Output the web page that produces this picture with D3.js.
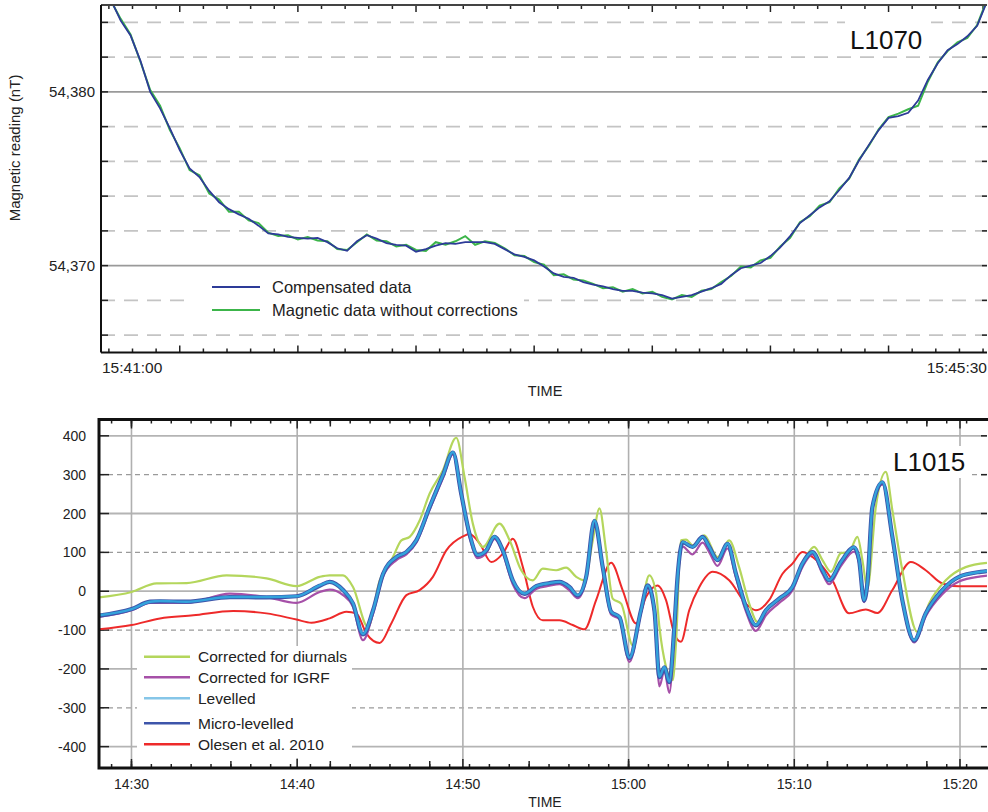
<!DOCTYPE html>
<html>
<head>
<meta charset="utf-8">
<script src="https://cdn.jsdelivr.net/npm/d3@7"></script>
<style>
  body { margin: 0; background: #fff; }
  svg { display: block; font-family: "Liberation Sans", Arial, sans-serif; }
</style>
</head>
<body>
<svg id="chart" width="988" height="812"></svg>
<script>
// ---- top panel (L1070): seconds after 15:41:00, readings in nT
let topTimes = [3, 6, 9, 12, 15, 18, 21, 24, 27, 30, 33, 36, 39, 42, 45, 48, 51, 54, 57, 60,
  63, 66, 69, 72, 75, 78, 81, 84, 87, 90, 93, 96, 99, 102, 105, 108, 111, 114, 117, 120,
  123, 126, 129, 132, 135, 138, 141, 144, 147, 150, 153, 156, 159, 162, 165, 168, 171, 174, 177, 180,
  183, 186, 189, 192, 195, 198, 201, 204, 207, 210, 213, 216, 219, 222, 225, 228, 231, 234, 237, 240,
  243, 246, 249, 252, 255, 258, 261, 264, 267, 270];
let compensated = [54385.3, 54384.1, 54383.25, 54381.8, 54380.0, 54379.05, 54377.9, 54376.65, 54375.6, 54375.1,
  54374.3, 54373.65, 54373.25, 54372.95, 54372.7, 54372.3, 54371.85, 54371.8, 54371.65, 54371.6,
  54371.55, 54371.6, 54371.35, 54371.0, 54370.85, 54371.4, 54371.75, 54371.55, 54371.3, 54371.2,
  54371.15, 54370.8, 54370.95, 54371.15, 54371.3, 54371.25, 54371.35, 54371.35, 54371.35, 54371.25,
  54370.95, 54370.65, 54370.5, 54370.3, 54369.95, 54369.55, 54369.35, 54369.3, 54369.05, 54368.9,
  54368.8, 54368.65, 54368.55, 54368.55, 54368.45, 54368.4, 54368.3, 54368.1, 54368.2, 54368.3,
  54368.5, 54368.7, 54368.95, 54369.45, 54369.85, 54370.0, 54370.15, 54370.55, 54371.05, 54371.7,
  54372.45, 54372.9, 54373.35, 54373.7, 54374.35, 54375.05, 54376.05, 54376.95, 54377.8, 54378.5,
  54378.6, 54378.8, 54379.5, 54380.7, 54381.65, 54382.4, 54382.75, 54383.2, 54383.8, 54385.2];
let uncorrected = [54385.25, 54384.2, 54383.3, 54381.75, 54380.1, 54379.2, 54377.8, 54376.75, 54375.5, 54375.2,
  54374.15, 54373.8, 54373.1, 54373.1, 54372.6, 54372.45, 54371.9, 54371.7, 54371.75, 54371.5,
  54371.65, 54371.45, 54371.4, 54370.95, 54370.9, 54371.35, 54371.8, 54371.45, 54371.4, 54371.1,
  54371.2, 54370.9, 54370.85, 54371.35, 54371.2, 54371.4, 54371.7, 54371.2, 54371.4, 54371.3,
  54371.0, 54370.6, 54370.55, 54370.2, 54370.05, 54369.45, 54369.5, 54369.2, 54369.15, 54368.95,
  54368.7, 54368.75, 54368.5, 54368.65, 54368.4, 54368.5, 54368.2, 54368.05, 54368.3, 54368.2,
  54368.55, 54368.65, 54369.05, 54369.4, 54369.95, 54369.9, 54370.3, 54370.45, 54371.1, 54371.6,
  54372.5, 54372.85, 54373.45, 54373.65, 54374.45, 54375.0, 54376.1, 54376.9, 54377.85, 54378.55,
  54378.75, 54379.0, 54379.2, 54380.6, 54381.7, 54382.35, 54382.85, 54383.1, 54383.85, 54385.3];
let topGridValues = [54366, 54368, 54370, 54372, 54374, 54376, 54378, 54380, 54382, 54384];
let topLabelValues = [54370, 54380];

// ---- bottom panel (L1015): minutes after 14:00, anomaly in nT
let levTimes = [28.04, 30.01, 31.12, 31.72, 33.33, 35.94, 38.15, 39.96, 41.36, 41.96,
  42.77, 43.37, 43.97, 44.58, 45.18, 45.99, 46.59, 47.19, 47.99, 48.79,
  49.40, 49.90, 50.40, 50.90, 51.41, 51.91, 52.41, 53.01, 53.72, 54.42,
  55.23, 55.83, 56.43, 56.93, 57.44, 57.94, 58.44, 58.95, 59.45, 60.05,
  60.75, 61.15, 61.56, 61.86, 62.16, 62.46, 62.76, 62.96, 63.26, 63.86,
  64.47, 64.87, 65.37, 65.97, 66.48, 67.08, 67.68, 68.29, 69.09, 69.89,
  70.49, 71.10, 71.70, 72.10, 72.81, 73.61, 73.91, 74.21, 74.41, 74.71,
  75.32, 75.92, 76.52, 77.23, 77.93, 78.93, 79.94, 81.25, 81.63];
let levelled = [-62, -46, -27, -25, -27, -15, -15, -13, 15, 24,
  3, -31, -110, -49, 45, 88, 101, 131, 217, 298,
  358, 251, 148, 93, 105, 141, 105, 28, -6, 13,
  21, 24, 11, -10, 37, 182, 62, -53, -66, -171,
  -49, 15, -49, -220, -195, -233, -92, 40, 127, 114,
  140, 114, 80, 123, 45, -40, -87, -49, -19, 11,
  71, 101, 54, 28, 75, 114, 80, -23, 20, 217,
  281, 140, -23, -126, -57, 3, 37, 50, 52];
let microLevelled = [-63, -46, -27, -26, -27, -15, -16, -13, 14, 24,
  3, -32, -111, -49, 44, 88, 101, 131, 216, 298,
  357, 251, 147, 93, 105, 140, 105, 28, -7, 13,
  21, 24, 11, -11, 37, 181, 62, -53, -67, -172,
  -49, 15, -50, -221, -196, -234, -92, 40, 126, 114,
  140, 114, 80, 122, 45, -40, -88, -49, -19, 11,
  71, 101, 54, 28, 75, 113, 80, -24, 20, 216,
  280, 140, -23, -127, -57, 3, 37, 50, 52];
let igrf = [-66, -49, -30, -30, -30, -6, -15, -30, -2, 4,
  -10, -40, -126, -58, 38, 80, 95, 125, 210, 290,
  352, 245, 140, 85, 98, 135, 98, 18, -18, 6,
  14, 18, 2, -18, 30, 178, 55, -60, -72, -182,
  -55, 10, -58, -245, -205, -262, -100, 30, 115, 95,
  125, 100, 65, 110, 35, -52, -102, -62, -30, 2,
  62, 95, 45, 18, 65, 102, 72, -28, 15, 210,
  275, 135, -28, -132, -65, -8, 25, 38, 40];
let diurnalTimes = [28.04, 30.01, 31.52, 33.33, 35.74, 38.15, 39.96, 41.36, 41.96, 42.77,
  43.37, 44.27, 44.98, 45.78, 46.29, 46.79, 47.39, 47.99, 48.79, 49.60,
  50.10, 50.60, 51.21, 52.21, 52.82, 53.52, 54.22, 54.82, 55.63, 56.23,
  56.84, 57.34, 57.84, 58.24, 58.64, 59.04, 59.55, 60.25, 60.75, 61.25,
  61.66, 61.86, 62.26, 62.66, 62.86, 63.16, 63.47, 63.86, 64.57, 65.37,
  66.07, 66.67, 67.28, 67.78, 68.48, 69.09, 69.89, 70.70, 71.20, 71.70,
  72.21, 72.81, 73.31, 73.81, 74.11, 74.41, 74.92, 75.52, 75.92, 76.52,
  77.43, 78.13, 79.14, 80.34, 81.63];
let diurnal = [-16, -2, 20, 21, 41, 33, 13, 37, 41, 41,
  11, -92, 28, 88, 131, 140, 182, 251, 311, 395,
  294, 174, 114, 174, 131, 54, 28, 58, 54, 61,
  37, 28, 131, 213, 105, -19, -32, -139, -49, 41,
  -5, -92, -195, -229, -134, 131, 133, 118, 144, 88,
  131, 62, -32, -79, -36, -23, 11, 88, 114, 80,
  50, 98, 101, 140, 80, 7, 217, 307, 208, 54,
  -105, -32, 28, 62, 73];
let olesenTimes = [28.04, 30.01, 31.72, 33.73, 36.14, 38.15, 39.96, 40.86, 41.96, 42.97,
  43.57, 44.18, 44.98, 45.68, 46.59, 47.39, 48.19, 49.00, 50.00, 50.40,
  51.01, 51.71, 52.41, 53.01, 53.62, 54.22, 54.82, 55.83, 56.63, 57.34,
  58.04, 58.95, 59.64, 60.45, 61.05, 61.75, 62.26, 62.76, 63.16, 63.66,
  64.27, 65.07, 66.07, 67.08, 67.68, 68.48, 69.29, 69.89, 70.49, 71.10,
  72.30, 73.31, 74.32, 75.02, 75.92, 77.03, 77.93, 78.93, 79.94, 81.31, 81.63];
let olesen = [-98, -87, -70, -62, -51, -57, -73, -81, -70, -53,
  -57, -109, -133, -83, -10, 3, 37, 105, 141, 147,
  123, 75, 97, 135, 62, -40, -75, -75, -87, -98,
  -23, 73, 3, -83, -15, 15, -23, -109, -130, -49,
  11, 50, 28, -32, -49, -23, 45, 71, 101, 88,
  28, -57, -47, -56, 3, 75, 54, 20, 13, 13, 13];
let botGridValues = [-400, -300, -200, -100, 0, 100, 200, 300, 400];
let botTimeLabels = [30, 40, 50, 60, 70, 80];

let svg = d3.select("#chart");

// ================= TOP PANEL =================
let topBox = { left: 101, right: 987, top: 5, bottom: 352.5 };
let xTop = d3.scaleLinear().domain([0, 270]).range([topBox.left, topBox.right]);
let yTop = d3.scaleLinear().domain([54365, 54385]).range([topBox.bottom, topBox.top]);
let gTop = svg.append("g");

gTop.append("clipPath").attr("id", "clipTop").append("rect")
  .attr("x", topBox.left).attr("y", topBox.top)
  .attr("width", topBox.right - topBox.left).attr("height", topBox.bottom - topBox.top);

// grid
gTop.selectAll(".tgrid").data(topGridValues).enter().append("line")
  .attr("x1", topBox.left).attr("x2", topBox.right)
  .attr("y1", d => yTop(d)).attr("y2", d => yTop(d))
  .attr("stroke", d => d % 10 === 0 ? "#9a9a9a" : "#c4c4c4")
  .attr("stroke-width", 1.6)
  .attr("stroke-dasharray", d => d % 10 === 0 ? null : "14,9");

// ticks
let topMajor = [24, 60, 96, 132, 168, 204, 240];
let topMinor = d3.range(2.4, 270, 7.2).filter(t => !topMajor.some(m => Math.abs(m - t) < 0.1));
[[topMajor, 7], [topMinor, 4]].forEach(([vals, len]) => {
  gTop.selectAll(null).data(vals).enter().append("line")
    .attr("x1", d => xTop(d)).attr("x2", d => xTop(d))
    .attr("y1", topBox.top).attr("y2", topBox.top + len)
    .attr("stroke", "#222").attr("stroke-width", 1.5);
  gTop.selectAll(null).data(vals).enter().append("line")
    .attr("x1", d => xTop(d)).attr("x2", d => xTop(d))
    .attr("y1", topBox.bottom).attr("y2", topBox.bottom - len)
    .attr("stroke", "#222").attr("stroke-width", 1.5);
});
gTop.selectAll(null).data(topGridValues).enter().append("line")
  .attr("x1", topBox.left).attr("x2", topBox.left + 7)
  .attr("y1", d => yTop(d)).attr("y2", d => yTop(d))
  .attr("stroke", "#222").attr("stroke-width", 1.5);
gTop.selectAll(null).data(topGridValues).enter().append("line")
  .attr("x1", topBox.right).attr("x2", topBox.right - 5)
  .attr("y1", d => yTop(d)).attr("y2", d => yTop(d))
  .attr("stroke", "#222").attr("stroke-width", 1.5);

// label boxes (white behind text)
gTop.append("rect").attr("x", 192).attr("y", 276).attr("width", 332).attr("height", 44).attr("fill", "#fff");
gTop.append("rect").attr("x", 845).attr("y", 12).attr("width", 86).attr("height", 30).attr("fill", "#fff");

// lines
let lineTop = d3.line().x((d, i) => xTop(topTimes[i])).y(d => yTop(d));
gTop.append("path").datum(uncorrected).attr("d", lineTop)
  .attr("fill", "none").attr("stroke", "#3cb54a").attr("stroke-width", 2)
  .attr("clip-path", "url(#clipTop)");
gTop.append("path").datum(compensated).attr("d", lineTop)
  .attr("fill", "none").attr("stroke", "#2d3b98").attr("stroke-width", 1.8)
  .attr("clip-path", "url(#clipTop)");

// frame
gTop.append("line").attr("x1", topBox.left).attr("x2", topBox.right).attr("y1", topBox.top).attr("y2", topBox.top)
  .attr("stroke", "#444").attr("stroke-width", 2);
gTop.append("line").attr("x1", topBox.left).attr("x2", topBox.right).attr("y1", topBox.bottom).attr("y2", topBox.bottom)
  .attr("stroke", "#111").attr("stroke-width", 2);
gTop.append("line").attr("x1", topBox.left).attr("x2", topBox.left).attr("y1", topBox.top).attr("y2", topBox.bottom)
  .attr("stroke", "#111").attr("stroke-width", 2);

// y labels
gTop.selectAll(null).data(topLabelValues).enter().append("text")
  .attr("x", 95).attr("y", d => yTop(d) + 5)
  .attr("text-anchor", "end").attr("font-size", 15).attr("fill", "#222")
  .text(d => d3.format(",")(d));
gTop.append("text").attr("transform", "translate(20,148) rotate(-90)")
  .attr("text-anchor", "middle").attr("font-size", 15).attr("fill", "#222")
  .text("Magnetic reading (nT)");

// x labels
gTop.append("text").attr("x", xTop(0) + 1).attr("y", 373).attr("font-size", 15.5).attr("fill", "#222").text("15:41:00");
gTop.append("text").attr("x", xTop(270)).attr("y", 373).attr("text-anchor", "end").attr("font-size", 15.5).attr("fill", "#222").text("15:45:30");
gTop.append("text").attr("x", 545).attr("y", 396).attr("text-anchor", "middle").attr("font-size", 14.5).attr("fill", "#222").text("TIME");

gTop.append("text").attr("x", 850).attr("y", 49).attr("font-size", 26).attr("fill", "#111").text("L1070");

// legend
let topLegend = [["Compensated data", "#2d3b98"], ["Magnetic data without corrections", "#3cb54a"]];
topLegend.forEach(([name, col], i) => {
  let y = 287 + i * 23;
  gTop.append("line").attr("x1", 212).attr("x2", 260).attr("y1", y).attr("y2", y).attr("stroke", col).attr("stroke-width", 2.2);
  gTop.append("text").attr("x", 272).attr("y", y + 5.5).attr("font-size", 16.5).attr("fill", "#222").text(name);
});

// ================= BOTTOM PANEL =================
let botBox = { left: 99, right: 987, top: 419.5, bottom: 768 };
let xBot = d3.scaleLinear().domain([28.04, 81.63]).range([botBox.left, botBox.right]);
let yBot = d3.scaleLinear().domain([-455, 442]).range([botBox.bottom, botBox.top]);
let gBot = svg.append("g");

gBot.append("clipPath").attr("id", "clipBot").append("rect")
  .attr("x", botBox.left).attr("y", botBox.top)
  .attr("width", botBox.right - botBox.left).attr("height", botBox.bottom - botBox.top);

// grid
gBot.selectAll(null).data(botGridValues).enter().append("line")
  .attr("x1", botBox.left).attr("x2", botBox.right)
  .attr("y1", d => yBot(d)).attr("y2", d => yBot(d))
  .attr("stroke", d => d % 200 === 0 ? "#b4b4b4" : "#9a9a9a")
  .attr("stroke-width", d => d % 200 === 0 ? 1.8 : 1.2)
  .attr("stroke-dasharray", d => d % 200 === 0 ? null : "5,4");
gBot.selectAll(null).data(botTimeLabels).enter().append("line")
  .attr("x1", d => xBot(d)).attr("x2", d => xBot(d))
  .attr("y1", botBox.top).attr("y2", botBox.bottom)
  .attr("stroke", "#b0b0b0").attr("stroke-width", 1.6);

// white boxes for legend and label
gBot.append("rect").attr("x", 137).attr("y", 646).attr("width", 215).attr("height", 112).attr("fill", "#fff");
gBot.append("rect").attr("x", 882).attr("y", 446).attr("width", 90).attr("height", 32).attr("fill", "#fff");

// ticks
let botMinor = d3.range(28.8, 81.6, 1.2);
let botMid = d3.range(30, 81.6, 6);
[[botMinor, 4], [botMid, 7], [botTimeLabels, 9]].forEach(([vals, len]) => {
  gBot.selectAll(null).data(vals).enter().append("line")
    .attr("x1", d => xBot(d)).attr("x2", d => xBot(d))
    .attr("y1", botBox.top).attr("y2", botBox.top + len)
    .attr("stroke", "#222").attr("stroke-width", 1.5);
  gBot.selectAll(null).data(vals).enter().append("line")
    .attr("x1", d => xBot(d)).attr("x2", d => xBot(d))
    .attr("y1", botBox.bottom).attr("y2", botBox.bottom - len)
    .attr("stroke", "#222").attr("stroke-width", 1.5);
});
gBot.selectAll(null).data(botGridValues).enter().append("line")
  .attr("x1", botBox.left).attr("x2", botBox.left + 10)
  .attr("y1", d => yBot(d)).attr("y2", d => yBot(d))
  .attr("stroke", "#222").attr("stroke-width", 1.5);
gBot.selectAll(null).data(botGridValues).enter().append("line")
  .attr("x1", botBox.right).attr("x2", botBox.right - 6)
  .attr("y1", d => yBot(d)).attr("y2", d => yBot(d))
  .attr("stroke", "#222").attr("stroke-width", 1.5);

// series
let mkLine = times => d3.line().curve(d3.curveMonotoneX).x((d, i) => xBot(times[i])).y(d => yBot(d));
let botSeries = [
  { name: "Olesen et al. 2010", values: olesen, times: olesenTimes, color: "#ee2a2a", width: 2 },
  { name: "Corrected for diurnals", values: diurnal, times: diurnalTimes, color: "#b4d65c", width: 2.2 },
  { name: "Corrected for IGRF", values: igrf, times: levTimes, color: "#a650a8", width: 2.2 },
  { name: "Micro-levelled", values: microLevelled, times: levTimes, color: "#3d55aa", width: 4.2 },
  { name: "Levelled", values: levelled, times: levTimes, color: "#33a3dc", width: 2.4 }
];
botSeries.forEach(s => {
  gBot.append("path").datum(s.values).attr("d", mkLine(s.times))
    .attr("fill", "none").attr("stroke", s.color).attr("stroke-width", s.width)
    .attr("clip-path", "url(#clipBot)");
});

// frame
gBot.append("rect").attr("x", botBox.left).attr("y", botBox.top)
  .attr("width", botBox.right - botBox.left + 4).attr("height", botBox.bottom - botBox.top)
  .attr("fill", "none").attr("stroke", "#111").attr("stroke-width", 3);

// y labels
gBot.selectAll(null).data(botGridValues).enter().append("text")
  .attr("x", 86).attr("y", d => yBot(d) + 5)
  .attr("text-anchor", "end").attr("font-size", 14).attr("fill", "#222")
  .text(d => d);

// x labels
let fmtTime = m => `${14 + Math.floor(m / 60)}:${d3.format("02")(m % 60)}`;
gBot.selectAll(null).data(botTimeLabels).enter().append("text")
  .attr("x", d => xBot(d)).attr("y", 789)
  .attr("text-anchor", "middle").attr("font-size", 14).attr("fill", "#222")
  .text(fmtTime);
gBot.append("text").attr("x", 545).attr("y", 807).attr("text-anchor", "middle").attr("font-size", 14).attr("fill", "#222").text("TIME");

gBot.append("text").attr("x", 893).attr("y", 471).attr("font-size", 26).attr("fill", "#111").text("L1015");

// legend
let legOrder = [
  ["Corrected for diurnals", "#b4d65c", 656.7],
  ["Corrected for IGRF", "#a650a8", 677.3],
  ["Levelled", "#86c6e8", 698.3],
  ["Micro-levelled", "#3d55aa", 723.3],
  ["Olesen et al. 2010", "#ee2a2a", 744.3]
];
legOrder.forEach(([name, col, y]) => {
  gBot.append("line").attr("x1", 144).attr("x2", 190).attr("y1", y).attr("y2", y).attr("stroke", col).attr("stroke-width", 2.4);
  gBot.append("text").attr("x", 198).attr("y", y + 5.5).attr("font-size", 15.5).attr("fill", "#222").text(name);
});
</script>
</body>
</html>
